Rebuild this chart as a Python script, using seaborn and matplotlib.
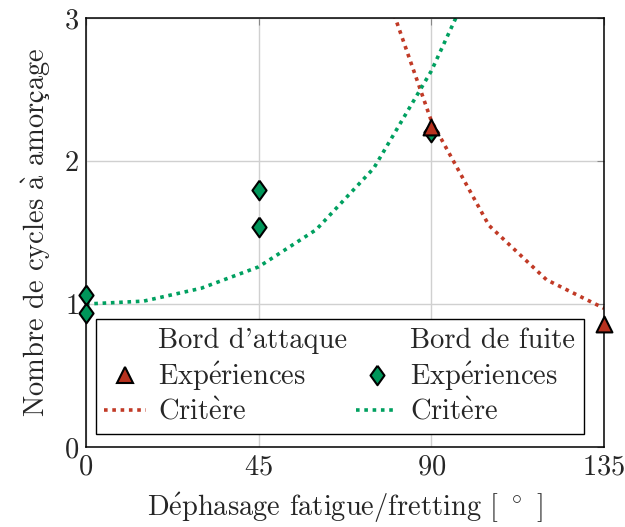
import numpy as np
import pandas as pd
import seaborn as sns
import matplotlib.pyplot as plt
from matplotlib.lines import Line2D

# experiments
ba_x = [90, 135]
ba_y = [2.24, 0.86]
bf_x = [0, 0, 45, 45, 90]
bf_y = [1.06, 0.94, 1.80, 1.54, 2.20]

# criterion curves
crit_x = [0, 15, 30, 45, 60, 75, 90, 105, 120, 135]
crit_ba = [None, None, None, None, None, 3.43, 2.28, 1.55, 1.17, 0.97]
crit_bf = [1.0, 1.02, 1.11, 1.26, 1.52, 1.95, 2.63, 3.5, None, None]

red = '#B8321F'
red_line = '#C13A26'
green = '#00965A'
green_line = '#00A060'

sns.set_style('white')
plt.rcParams['font.family'] = ['cmr10', 'Liberation Serif']
plt.rcParams['mathtext.fontset'] = 'cm'
plt.rcParams['axes.formatter.use_mathtext'] = True

# accented letters through mathtext (cmr10 has no latin-1 glyphs)
e_ac = r'$\mathrm{\acute{e}}$'
e_gr = r'$\mathrm{\grave{e}}$'
a_gr = r'$\mathrm{\grave{a}}$'
c_ced = r'$\mathrm{ç}$'

fs = 20.5

crit_df = pd.DataFrame({'x': crit_x, 'ba': crit_ba, 'bf': crit_bf}).astype(float)

fig = plt.figure(figsize=(6.25, 5.27), dpi=100)
ax = fig.add_axes([0.1376, 0.1518, 0.8288, 0.814])

ax.grid(True, color='#d0d0d0', linewidth=1)
ax.set_axisbelow(True)

sns.lineplot(data=crit_df.dropna(subset=['ba']), x='x', y='ba', ax=ax, color=red_line,
             linewidth=2.6, estimator=None, sort=False)
sns.lineplot(data=crit_df.dropna(subset=['bf']), x='x', y='bf', ax=ax, color=green_line,
             linewidth=2.6, estimator=None, sort=False)
for ln in ax.lines:
    ln.set_linestyle((0, (1, 1.3)))

dia = [(0, 1), (0.72, 0), (0, -1), (-0.72, 0), (0, 1)]
sns.scatterplot(x=bf_x, y=bf_y, ax=ax, marker=dia, s=200, color=green,
                edgecolor='black', linewidth=1.5, zorder=5, clip_on=False)
sns.scatterplot(x=ba_x, y=ba_y, ax=ax, marker='^', s=130, color=red,
                edgecolor='black', linewidth=1.5, zorder=6, clip_on=False)

ax.set_xlim(0, 135)
ax.set_ylim(0, 3)
ax.set_xticks([0, 45, 90, 135])
ax.set_yticks([0, 1, 2, 3])
ax.tick_params(labelsize=fs, direction='in', length=5, color='#888888',
               top=True, right=True, pad=5)
for s in ax.spines.values():
    s.set_color('black')
    s.set_linewidth(1.1)

ax.set_xlabel('D' + e_ac + r'phasage fatigue/fretting [ $^\circ$ ]', fontsize=fs, labelpad=8)
ax.set_ylabel('Nombre de cycles ' + a_gr + ' amor' + c_ced + 'age', fontsize=fs, labelpad=8)

blank = Line2D([], [], linestyle='none')
h_tri = Line2D([], [], linestyle='none', marker='^', markersize=11,
               markerfacecolor=red, markeredgecolor='black', markeredgewidth=1.5)
h_dia = Line2D([], [], linestyle='none', marker=dia, markersize=14,
               markerfacecolor=green, markeredgecolor='black', markeredgewidth=1.5)
h_red = Line2D([], [], color=red_line, linewidth=2.6, linestyle=(0, (1, 1.3)))
h_grn = Line2D([], [], color=green_line, linewidth=2.6, linestyle=(0, (1, 1.3)))
leg = ax.legend([blank, h_tri, h_red, blank, h_dia, h_grn],
                ["Bord d'attaque", 'Exp' + e_ac + 'riences', 'Crit' + e_gr + 're',
                 'Bord de fuite', 'Exp' + e_ac + 'riences', 'Crit' + e_gr + 're'],
                ncol=2, loc='lower center', bbox_to_anchor=(0.49, 0.03),
                fontsize=fs, frameon=True, fancybox=False, edgecolor='black',
                framealpha=1, handlelength=1.45, handletextpad=0.45,
                columnspacing=0.3, labelspacing=0.2, borderpad=0.3,
                borderaxespad=0)
leg.get_frame().set_linewidth(1.0)

plt.savefig('out.png', dpi=100)
